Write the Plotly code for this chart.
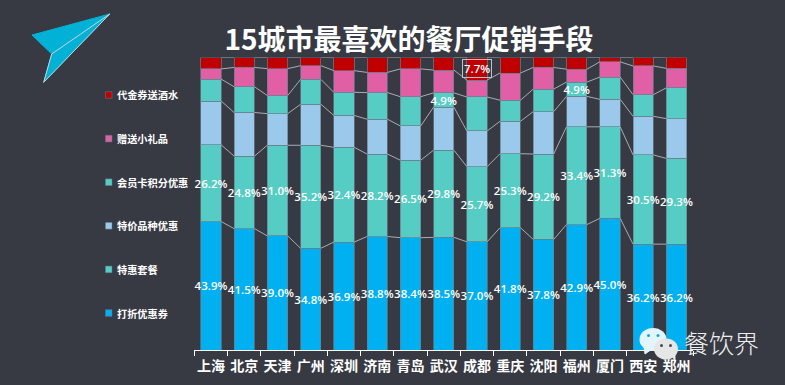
import plotly.graph_objects as go

W, H = 785, 385
LEFT, RIGHT, TOP, BASE = 194.4, 693.1, 57.5, 350

cities = ["上海","北京","天津","广州","深圳","济南","青岛","武汉","成都","重庆","沈阳","福州","厦门","西安","郑州"]
discount = [43.9,41.5,39.0,34.8,36.9,38.8,38.4,38.5,37.0,41.8,37.8,42.9,45.0,36.2,36.2]
combo    = [26.2,24.8,31.0,35.2,32.4,28.2,26.5,29.8,25.7,25.3,29.2,33.4,31.3,30.5,29.3]
special  = [15.0,14.9,10.8,14.0,10.9,11.9,11.7,14.7,12.2,11.1,14.5,10.4,9.4,13.2,13.6]
member   = [7.5,8.8,6.2,8.5,7.9,9.1,10.0,4.9,11.6,7.2,7.7,4.9,7.6,7.4,10.5]
gift     = [3.5,6.6,9.2,4.7,7.4,6.9,9.5,7.8,5.8,9.3,7.4,4.4,5.2,9.8,6.7]
voucher  = [3.9,3.4,3.8,2.8,4.5,5.1,3.9,4.3,7.7,5.3,3.5,4.0,1.5,2.9,3.8]

series_names = ["打折优惠券","特惠套餐","特价品种优惠","会员卡积分优惠","赠送小礼品","代金券送酒水"]
series_vals = [discount, combo, special, member, gift, voucher]
colors = ["#00B0F0","#55CCC4","#9BC9EC","#55CCC4","#E05FA5","#C00000"]
labelled = [None, None, set(), {"武汉","福州"}, set(), set()]

BG = "#373A43"
WIDTH = 0.615
LABEL_FONT = "Open Sans, Noto Sans CJK SC, sans-serif"
CJK = "Noto Sans CJK SC, sans-serif"
EDGE = "rgba(105,125,140,0.7)"

def px(x): return x / W
def py(y): return 1 - y / H

fig = go.Figure()
for name, vals, color, lab in zip(series_names, series_vals, colors, labelled):
    text = [f"{v:.1f}%" if (lab is None or c in lab) else "" for c, v in zip(cities, vals)]
    fig.add_trace(go.Bar(
        x=cities, y=vals, name=name, width=WIDTH, showlegend=False,
        marker=dict(color=color, line=dict(color=EDGE, width=1)),
        text=text, textposition="inside", insidetextanchor="middle", textangle=0,
        constraintext="none", cliponaxis=False,
        textfont=dict(color="white", size=11.5, family=LABEL_FONT, weight=600),
        hoverinfo="skip"))

# connector lines between stacked segments
cum = [0.0] * len(cities)
for vals in series_vals:
    cum = [a + b for a, b in zip(cum, vals)]
    xs, ys = [], []
    for i in range(len(cities) - 1):
        xs += [i + WIDTH / 2, i + 1 - WIDTH / 2, None]
        ys += [cum[i], cum[i + 1], None]
    fig.add_trace(go.Scatter(x=xs, y=ys, xaxis="x2", yaxis="y", mode="lines",
                             line=dict(color="#A9ADB2", width=1), showlegend=False, hoverinfo="skip"))

shapes, annos = [], []

# legend drawn by hand to match the small square swatches
for i, (name, color) in enumerate(zip(series_names, colors)):
    yc = 313 - i * 43.6
    shapes.append(dict(type="rect", xref="paper", yref="paper", x0=px(105.5), x1=px(112), y0=py(yc - 3.3), y1=py(yc + 3.3),
                       fillcolor=color, line=dict(color=EDGE, width=0.7)))
    annos.append(dict(xref="paper", yref="paper", x=px(115), y=py(yc), xanchor="left", yanchor="middle", showarrow=False,
                      text=name, font=dict(color="white", size=10.2, family=CJK, weight=700)))

# boxed label on Chengdu
idx = cities.index("成都")
annos.append(dict(x="成都", y=100 - voucher[idx] / 2, xref="x", yref="y", showarrow=False,
                  text=f"{voucher[idx]:.1f}%", font=dict(color="white", size=11.5, family=LABEL_FONT, weight=600),
                  bordercolor="#BFC2C6", borderwidth=1, borderpad=1))

# paper plane
def poly(pts, fill, line=None):
    d = "M " + " L ".join(f"{px(a):.5f},{py(b):.5f}" for a, b in pts) + " Z"
    return dict(type="path", xref="paper", yref="paper", path=d, fillcolor=fill,
                line=dict(color=line or fill, width=1), layer="above")
tip, lft, fold, btm = (109.7, 14), (32, 35), (51.7, 54), (43.7, 82.3)
shapes.append(poly([tip, lft, fold], "#02B2D6"))
shapes.append(poly([tip, fold, btm], "#02B2D6"))
for a, b in [(tip, fold), (fold, btm), (tip, btm)]:
    shapes.append(dict(type="line", xref="paper", yref="paper", x0=px(a[0]), y0=py(a[1]), x1=px(b[0]), y1=py(b[1]),
                       line=dict(color="#C9D3D8", width=1), layer="above"))

# watermark
def ell(cx, cy, rx, ry, fill):
    return dict(type="circle", xref="paper", yref="paper", x0=px(cx-rx), x1=px(cx+rx), y0=py(cy+ry), y1=py(cy-ry),
                fillcolor=fill, line=dict(width=0), layer="above")
shapes.append(poly([(644, 346), (645, 354), (652, 349)], "#E2F5FC"))
shapes.append(ell(653, 339.5, 13.5, 11.5, "#E2F5FC"))
shapes.append(ell(648.5, 335.5, 1.5, 1.5, "#16A3DC"))
shapes.append(ell(658, 335.5, 1.5, 1.5, "#16A3DC"))
shapes.append(poly([(670, 354), (675, 360), (675, 352)], "#E6E6E6"))
shapes.append(ell(666, 349, 12, 10.5, "#E6E6E6"))
shapes.append(ell(661.5, 345.5, 1.5, 1.5, "#444A52"))
shapes.append(ell(670.5, 345.5, 1.5, 1.5, "#444A52"))
annos.append(dict(xref="paper", yref="paper", x=px(721.5), y=py(342), xanchor="center", yanchor="middle", showarrow=False,
                  text="餐饮界", font=dict(color="#EDEDED", size=25, family=CJK, weight=300)))

fig.update_layout(
    width=W, height=H, autosize=False, barmode="stack", bargap=0.385,
    paper_bgcolor=BG, plot_bgcolor=BG, margin=dict(l=0, r=0, t=0, b=0),
    title=dict(text="<b>15城市最喜欢的餐厅促销手段</b>", x=px(409), xanchor="center", y=py(40.5), yanchor="middle",
               font=dict(color="white", size=28, family=CJK)),
    xaxis=dict(domain=[px(LEFT), px(RIGHT)], type="category", categoryorder="array", categoryarray=cities,
               tickson="boundaries", ticks="outside", ticklen=5, tickcolor="white", tickwidth=1, tickangle=0,
               ticklabelstandoff=3,
               showline=True, linecolor="white", linewidth=1, showgrid=False, zeroline=False,
               tickfont=dict(color="white", size=14, family=CJK, weight=700)),
    xaxis2=dict(domain=[px(LEFT), px(RIGHT)], range=[-0.5, 14.5], overlaying="x", anchor="y", visible=False),
    yaxis=dict(domain=[py(BASE), py(TOP)], range=[0, 100], visible=False),
    shapes=shapes, annotations=annos, showlegend=False,
)
fig.write_html("out.html", config={"displayModeBar": False},
               post_script="document.documentElement.style.background='%s';document.body.style.margin='0';document.body.style.overflow='hidden';" % BG)
